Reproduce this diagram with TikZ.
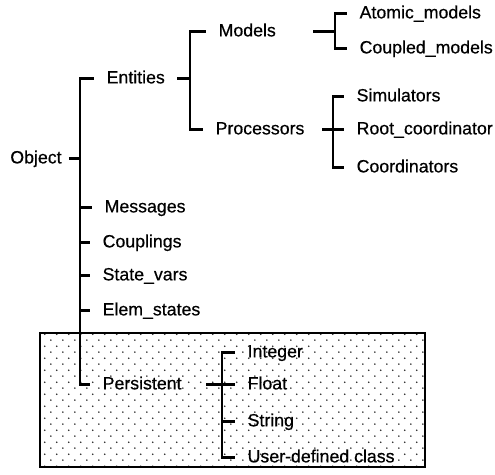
\documentclass[tikz,border=0pt]{standalone}
\usepackage{fontspec}
\setmainfont{Liberation Sans}
\newfontfamily\lblfont[FakeBold=0.5]{Liberation Sans}
\usetikzlibrary{patterns.meta}

\tikzdeclarepattern{
  name=sparsedots,
  type=uncolored,
  bottom left={(0pt,0pt)},
  top right={(7pt,7pt)},
  tile size={(7pt,7pt)},
  code={\fill (1.75pt,1.75pt) circle (0.5pt); \fill (5.25pt,5.25pt) circle (0.5pt);}
}

\begin{document}
\begin{tikzpicture}[x=0.02cm, y=-0.02cm,
    cls/.style={anchor=west, inner xsep=7pt, inner ysep=0pt, text height=7pt, text depth=2pt,
      font=\lblfont\fontsize{10.1}{12}\selectfont},
    tree/.style={line width=1.7pt}]
\useasboundingbox (0,0) rectangle (495,475);

\draw[line width=1.5pt, pattern=sparsedots, pattern color=black!85] (40,333) rectangle (425,467);

\node[cls, anchor=east, inner xsep=4pt] (object) at (69,159) {Object};
\node[cls] (entities) at (94,79) {Entities};
\node[cls] (messages) at (92,208) {Messages};
\node[cls] (couplings) at (90,243) {Couplings};
\node[cls] (statevars) at (90,276) {State\_vars};
\node[cls] (elemstates) at (90,311) {Elem\_states};
\node[cls] (persistent) at (90,385) {Persistent};

\node[cls] (models) at (206,32) {Models};
\node[cls] (processors) at (203,130) {Processors};

\node[cls] (atomic) at (347,14) {Atomic\_models};
\node[cls] (coupled) at (347,49) {Coupled\_models};

\node[cls] (simulators) at (344,97) {Simulators};
\node[cls] (rootcoord) at (344,130) {Root\_coordinator};
\node[cls] (coordinators) at (344,168) {Coordinators};

\node[cls] (integer) at (235,353) {Integer};
\node[cls] (float) at (235,385) {Float};
\node[cls] (string) at (235,422) {String};
\node[cls] (userclass) at (235,458) {User-defined class};

\coordinate (trunk) at (80,0);
\coordinate (entspine) at (190,0);
\coordinate (modspine) at (335,0);
\coordinate (procspine) at (333,0);
\coordinate (perspine) at (222,0);

\draw[tree] (object.east) -- (object.east -| trunk);
\draw[tree] (entities.west) -| (trunk |- persistent.west) -- (persistent.west);
\foreach \n in {messages,couplings,statevars,elemstates}
  \draw[tree] (\n.west) -- (\n.west -| trunk);

\draw[tree] (entities.east) -- (entities.east -| entspine);
\draw[tree] (models.west) -| (entspine |- processors.west) -- (processors.west);

\draw[tree] ([xshift=14pt]models.east) -- (models.east -| modspine);
\draw[tree] (atomic.west) -| (modspine |- coupled.west) -- (coupled.west);

\draw[tree] ([xshift=3pt]processors.east) -- (rootcoord.west);
\draw[tree] (simulators.west) -| (procspine |- coordinators.west) -- (coordinators.west);

\draw[tree] ([xshift=7pt]persistent.east) -- (float.west);
\draw[tree] (integer.west) -| (perspine |- userclass.west) -- (userclass.west);
\draw[tree] (string.west) -- (string.west -| perspine);
\end{tikzpicture}
\end{document}
